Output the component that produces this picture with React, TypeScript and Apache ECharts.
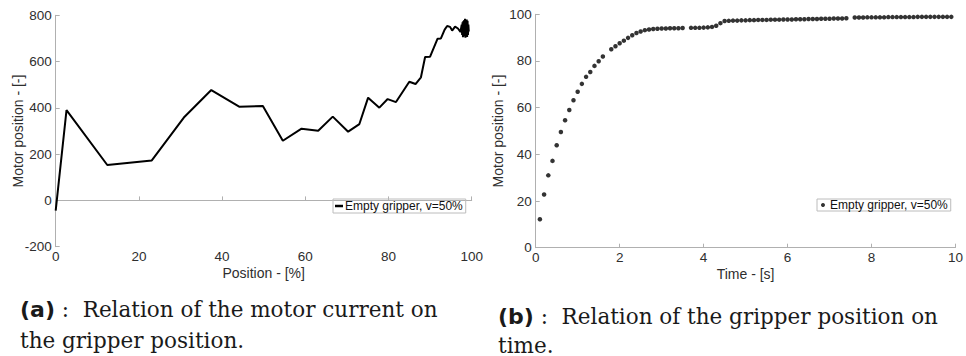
import React, { useEffect, useRef } from "react";
import * as echarts from "echarts";

// Chart (a): motor current vs gripper position
const posX: number[] = [
  0, 2.6, 12.4, 23.1, 30.8, 37.4, 44.1, 49.8, 54.6, 59.1, 63.1, 66.6, 70.3, 73.0,
  75.1, 77.8, 79.8, 81.8, 85.0, 86.5, 87.8, 88.8, 90.0, 91.8, 92.6, 93.5, 94.1,
  94.8, 95.3, 96.0, 96.7, 97.3, 97.6, 97.7, 97.8, 97.9, 98.0, 98.1, 98.2, 98.3,
  98.4, 98.5, 98.6, 98.7, 98.8, 98.9, 99.0, 99.1, 99.2, 99.3,
];
const currentY: number[] = [
  -44, 390, 153, 173, 358, 477, 405, 408, 258, 310, 301, 362, 297, 330,
  444, 401, 438, 425, 513, 503, 532, 620, 621, 699, 700, 738, 754,
  750, 734, 751, 743, 728, 760, 715, 770, 705, 775, 712, 780, 708,
  785, 703, 778, 710, 782, 706, 776, 715, 760, 730,
];

// Chart (b): gripper position vs time
const timeX: number[] = [
  0.1, 0.2, 0.3, 0.4, 0.5, 0.6, 0.7, 0.8, 0.9, 1.0, 1.1, 1.2, 1.3, 1.4, 1.5, 1.6,
  1.8, 1.9, 2.0, 2.1, 2.2, 2.3, 2.4, 2.5, 2.6, 2.7, 2.8, 2.9, 3.0, 3.1, 3.2, 3.3,
  3.4, 3.5, 3.7, 3.8, 3.9, 4.0, 4.1, 4.2, 4.3, 4.4, 4.5, 4.6, 4.7, 4.8, 4.9, 5.0,
  5.1, 5.2, 5.3, 5.4, 5.5, 5.6, 5.7, 5.8, 5.9, 6.0, 6.1, 6.2, 6.3, 6.4, 6.5, 6.6,
  6.7, 6.8, 6.9, 7.0, 7.1, 7.2, 7.3, 7.4, 7.6, 7.7, 7.8, 7.9, 8.0, 8.1, 8.2, 8.3,
  8.4, 8.5, 8.6, 8.7, 8.8, 8.9, 9.0, 9.1, 9.2, 9.3, 9.4, 9.5, 9.6, 9.7, 9.8, 9.9,
];
const positionY: number[] = [
  12.2, 22.8, 31.0, 37.2, 43.9, 49.6, 54.6, 59.0, 63.2, 66.8, 70.2, 73.2, 75.3, 77.9, 79.9, 81.9,
  85.0, 86.3, 87.6, 88.7, 89.9, 91.0, 92.0, 92.6, 93.2, 93.5, 93.7, 93.8, 93.9, 93.9, 94.0, 94.0,
  94.0, 94.1, 94.2, 94.2, 94.2, 94.3, 94.4, 94.6, 95.1, 96.2, 97.1, 97.2, 97.3, 97.3, 97.4, 97.4,
  97.5, 97.5, 97.6, 97.6, 97.6, 97.7, 97.7, 97.7, 97.8, 97.8, 97.8, 97.9, 97.9, 97.9, 98.0, 98.0,
  98.0, 98.1, 98.1, 98.1, 98.2, 98.2, 98.2, 98.3, 98.6, 98.6, 98.6, 98.7, 98.7, 98.7, 98.7, 98.7,
  98.8, 98.8, 98.8, 98.8, 98.8, 98.8, 98.8, 98.9, 98.9, 98.9, 98.9, 98.9, 98.9, 98.9, 98.9, 98.9,
];

const xTicksA = [0, 100, 20];
const yTicksA = [-200, 800, 200];
const xTicksB = [0, 10, 2];
const yTicksB = [0, 100, 20];

const legendLabel = "Empty gripper, v=50%";
const captionA1 = "Relation of the motor current on";
const captionA2 = "the gripper position.";
const captionB1 = "Relation of the gripper position on";
const captionB2 = "time.";

const SANS = "'Liberation Sans', Arial, Helvetica, sans-serif";
const SERIF = "'DejaVu Serif', 'Liberation Serif', serif";
const BOLD_SANS = "'DejaVu Sans', 'Open Sans', sans-serif";
const AXIS_COLOR = "#b0b0b0";
const TEXT_COLOR = "#2e2e2e";
const CAPTION_COLOR = "#1a1a1a";
const CAP_SIZE = 21.5;

function axisCommon(gridIndex: number) {
  return {
    gridIndex,
    axisLine: { show: true, lineStyle: { color: AXIS_COLOR, width: 1 } },
    axisTick: { show: true, inside: true, length: 4, lineStyle: { color: AXIS_COLOR } },
    splitLine: { show: false },
    nameTextStyle: { color: TEXT_COLOR, fontSize: 14, fontFamily: SANS },
    nameLocation: "middle" as const,
    nameMoveOverlap: false,
  };
}

const capRich = {
  b: { fontFamily: BOLD_SANS, fontWeight: "bold", fontSize: 22, fill: CAPTION_COLOR },
  r: { fontFamily: SERIF, fontSize: CAP_SIZE, fill: CAPTION_COLOR },
};

export default function App() {
  const ref = useRef<HTMLDivElement>(null);
  useEffect(() => {
    if (!ref.current) return;
    const chart = echarts.init(ref.current, undefined, { renderer: "svg" });
    const lineData = posX.map((x, i) => [x, currentY[i]]);
    const dotData = timeX.map((x, i) => [x, positionY[i]]);
    chart.setOption({
      animation: false,
      backgroundColor: "#ffffff",
      grid: [
        { left: 55.7, top: 15.3, width: 416, height: 231.4 },
        { left: 535.7, top: 14.3, width: 421.6, height: 233.4 },
      ],
      xAxis: [
        {
          ...axisCommon(0),
          type: "value",
          min: xTicksA[0],
          max: xTicksA[1],
          interval: xTicksA[2],
          name: "Position - [%]",
          nameGap: 19,
          axisLabel: { color: TEXT_COLOR, fontSize: 13.5, fontFamily: SANS, margin: 3 },
        },
        {
          ...axisCommon(1),
          type: "value",
          min: xTicksB[0],
          max: xTicksB[1],
          interval: xTicksB[2],
          name: "Time - [s]",
          nameGap: 19,
          axisLabel: { color: TEXT_COLOR, fontSize: 13.5, fontFamily: SANS, margin: 3 },
        },
      ],
      yAxis: [
        {
          ...axisCommon(0),
          type: "value",
          min: yTicksA[0],
          max: yTicksA[1],
          interval: yTicksA[2],
          name: "Motor position - [-]",
          nameGap: 31,
          axisLabel: { color: TEXT_COLOR, fontSize: 13.5, fontFamily: SANS, margin: 4 },
        },
        {
          ...axisCommon(1),
          type: "value",
          min: yTicksB[0],
          max: yTicksB[1],
          interval: yTicksB[2],
          name: "Motor position - [-]",
          nameGap: 31,
          axisLabel: { color: TEXT_COLOR, fontSize: 13.5, fontFamily: SANS, margin: 4 },
        },
      ],
      legend: [
        {
          data: [{ name: "a", icon: "rect" }],
          formatter: () => legendLabel,
          left: 333,
          top: 199,
          itemWidth: 8,
          itemHeight: 2.5,
          itemGap: 2,
          padding: [1, 3, 1, 2],
          borderColor: "#bcbcbc",
          borderWidth: 1,
          borderRadius: 0,
          textStyle: { color: "#111", fontSize: 12, fontFamily: SANS, padding: [0, 0, 0, -3] },
        },
        {
          data: [{ name: "b", icon: "circle" }],
          formatter: () => legendLabel,
          left: 817,
          top: 199,
          itemWidth: 4,
          itemHeight: 4,
          itemGap: 2,
          padding: [0, 3, 0, 4],
          borderColor: "#bcbcbc",
          borderWidth: 1,
          borderRadius: 0,
          textStyle: { color: "#111", fontSize: 12, fontFamily: SANS, padding: [0, 0, 0, 0] },
        },
      ],
      series: [
        {
          name: "a",
          type: "line",
          xAxisIndex: 0,
          yAxisIndex: 0,
          data: lineData,
          showSymbol: false,
          symbol: "none",
          lineStyle: { color: "#000", width: 2 },
          itemStyle: { color: "#000" },
        },
        {
          name: "b",
          type: "scatter",
          xAxisIndex: 1,
          yAxisIndex: 1,
          data: dotData,
          symbol: "circle",
          symbolSize: 4.5,
          itemStyle: { color: "#000" },
        },
      ],
      graphic: [
        {
          type: "text",
          x: 20,
          y: 309,
          style: { text: "{b|(a)}{r| :  " + captionA1 + "}", rich: capRich, verticalAlign: "middle" },
        },
        {
          type: "text",
          x: 20,
          y: 340,
          style: { text: captionA2, font: CAP_SIZE + "px " + SERIF, fill: CAPTION_COLOR, verticalAlign: "middle" },
        },
        {
          type: "text",
          x: 498,
          y: 316,
          style: { text: "{b|(b)}{r| :  " + captionB1 + "}", rich: capRich, verticalAlign: "middle" },
        },
        {
          type: "text",
          x: 498,
          y: 345,
          style: { text: captionB2, font: CAP_SIZE + "px " + SERIF, fill: CAPTION_COLOR, verticalAlign: "middle" },
        },
      ],
    });
    return () => chart.dispose();
  }, []);
  return (
    <div
      ref={ref}
      style={{ position: "fixed", left: 0, top: 0, width: 966, height: 356, background: "#fff" }}
    />
  );
}
